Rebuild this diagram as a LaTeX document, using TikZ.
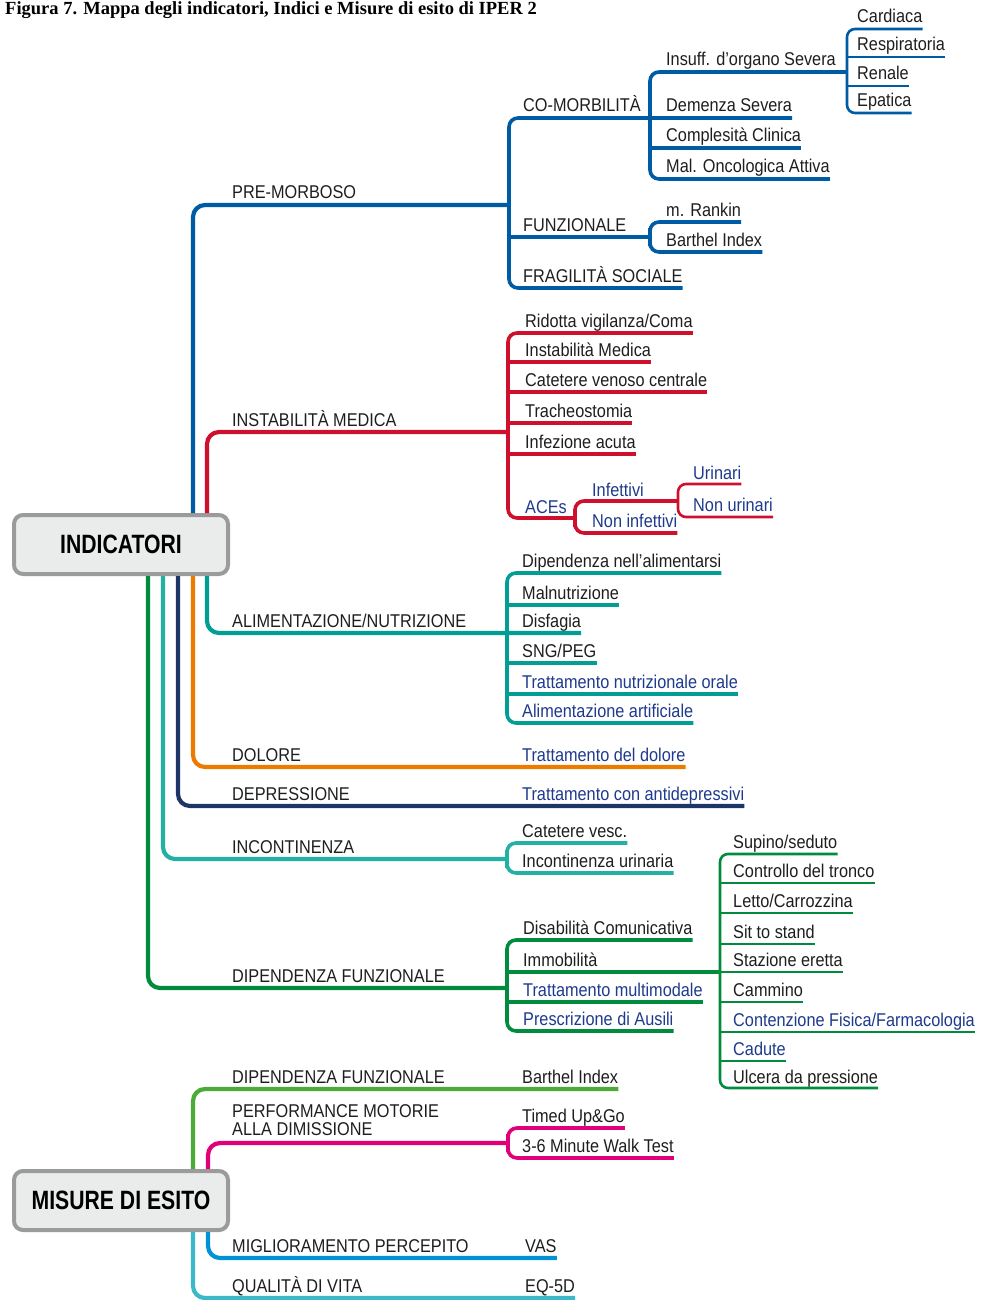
\documentclass[tikz,border=0pt]{standalone}
\usepackage{fontspec}
\setmainfont{Liberation Sans}
\newfontfamily\lblfont[FakeStretch=0.88]{Liberation Sans}
\newfontfamily\hubfont[FakeStretch=0.8]{Liberation Sans}
\newfontfamily\titlefont{Liberation Serif}
\usetikzlibrary{calc}

\definecolor{mblue}{RGB}{0,91,165}
\definecolor{mred}{RGB}{207,16,45}
\definecolor{mteal}{RGB}{0,158,148}
\definecolor{morange}{RGB}{236,124,0}
\definecolor{mnavy}{RGB}{29,53,103}
\definecolor{maqua}{RGB}{36,176,165}
\definecolor{mgreen}{RGB}{0,140,60}
\definecolor{mlime}{RGB}{76,170,54}
\definecolor{mmag}{RGB}{226,0,122}
\definecolor{msky}{RGB}{0,146,212}
\definecolor{mcyan}{RGB}{60,184,200}
\definecolor{ink}{RGB}{30,30,30}
\definecolor{txtblue}{RGB}{30,58,140}
\definecolor{hubgrey}{RGB}{155,155,155}
\definecolor{hubfill}{RGB}{234,236,235}

\begin{document}
\begin{tikzpicture}[
  x=1pt, y=-1pt,
  lbl/.style={anchor=base west, inner sep=0pt, text=ink,
    font=\lblfont\fontsize{18.5}{18}\selectfont},
  lblb/.style={lbl, text=txtblue},
  hub/.style={
    draw=hubgrey, fill=hubfill, line width=4pt, rounded corners=9pt,
    minimum width=214pt, minimum height=59pt, text=black,
    font=\hubfont\bfseries\fontsize{26.5}{28}\selectfont
  },
  trunk/.style={line width=4.2pt, rounded corners=12pt},
  branch/.style={line width=3.6pt, rounded corners=9pt},
  twig/.style={line width=2.6pt, rounded corners=8pt}
]
\useasboundingbox (0,0) rectangle (982,1300);

\node[anchor=base west, inner sep=0pt,
  font=\titlefont\bfseries\fontsize{18.5}{20}\selectfont] (title) at (5,15)
  {Figura 7. Mappa degli indicatori, Indici e Misure di esito di IPER 2};

% Hubs.
\node[hub] (ind) at (121,544.5) {INDICATORI};
\node[hub] (mis) at (121,1200.5) {MISURE DI ESITO};

% Junctions.
\coordinate (preJ)  at (509,205);
\coordinate (comJ)  at (650,118);
\coordinate (insJ)  at (847,72);
\coordinate (funJ)  at (650,237);
\coordinate (insmJ) at (508,432);
\coordinate (acesJ) at (575,518);
\coordinate (infJ)  at (678,501);
\coordinate (alimJ) at (507,633);
\coordinate (incJ)  at (507,859);
\coordinate (dipJ)  at (507,988);
\coordinate (immJ)  at (720,972);
\coordinate (perfJ) at (508,1143);

% Pre-morboso.
\node[lbl] (premorb)  at (232,199) {PRE-MORBOSO};
\node[lbl] (comorb)   at (523,112) {CO-MORBILITÀ};
\node[lbl] (funz)     at (523,231) {FUNZIONALE};
\node[lbl] (fragil)   at (523,282) {FRAGILITÀ SOCIALE};
\node[lbl] (insuff)   at (666,66)  {Insuff. d’organo Severa};
\node[lbl] (demenza)  at (666,112) {Demenza Severa};
\node[lbl] (complex)  at (666,142) {Complesità Clinica};
\node[lbl] (oncol)    at (666,173) {Mal. Oncologica Attiva};
\node[lbl] (cardiaca) at (857,23)  {Cardiaca};
\node[lbl] (respir)   at (857,51)  {Respiratoria};
\node[lbl] (renale)   at (857,80)  {Renale};
\node[lbl] (epatica)  at (857,107) {Epatica};
\node[lbl] (rankin)   at (666,216) {m. Rankin};
\node[lbl] (barthel)  at (666,246) {Barthel Index};

\draw[trunk, mblue] ([xshift=72pt]ind.north) |- (preJ);
\draw[branch, mblue] ($(demenza.base east)+(0,6)$) -| (preJ)
  |- ($(fragil.base east)+(0,6)$);
\draw[branch, mblue] (preJ |- funJ) -- (funJ);
\draw[branch, mblue] (insJ) -| (comJ) |- ($(oncol.base east)+(0,6)$);
\draw[branch, mblue] ($(comJ |- complex.base)+(0,6)$) -- ($(complex.base east)+(0,6)$);
\draw[twig, mblue] ($(cardiaca.base east)+(0,6)$) -| (insJ)
  |- ($(epatica.base east)+(0,6)$);
\draw[twig, mblue] ($(insJ |- respir.base)+(0,6)$) -- ($(respir.base east)+(0,6)$);
\draw[twig, mblue] ($(insJ |- renale.base)+(0,6)$) -- ($(renale.base east)+(0,6)$);
\draw[branch, mblue] ($(rankin.base east)+(0,6)$) -| (funJ)
  |- ($(barthel.base east)+(0,6)$);

% Instabilita medica.
\node[lbl]  (instab)  at (232,426) {INSTABILITÀ MEDICA};
\node[lbl]  (ridotta) at (525,327) {Ridotta vigilanza/Coma};
\node[lbl]  (instmed) at (525,356) {Instabilità Medica};
\node[lbl]  (cvc)     at (525,386) {Catetere venoso centrale};
\node[lbl]  (tracheo) at (525,417) {Tracheostomia};
\node[lbl]  (infez)   at (525,448) {Infezione acuta};
\node[lblb] (aces)    at (525,513) {ACEs};
\node[lblb] (infett)  at (592,496) {Infettivi};
\node[lblb] (noninf)  at (592,527) {Non infettivi};
\node[lblb] (urinari) at (693,479) {Urinari};
\node[lblb] (nonurin) at (693,511) {Non urinari};

\draw[trunk, mred] ([xshift=86pt]ind.north) |- (insmJ);
\draw[branch, mred] ($(ridotta.base east)+(0,6)$) -| (insmJ) |- (acesJ);
\draw[branch, mred] ($(insmJ |- instmed.base)+(0,6)$) -- ($(instmed.base east)+(0,6)$);
\draw[branch, mred] ($(insmJ |- cvc.base)+(0,6)$) -- ($(cvc.base east)+(0,6)$);
\draw[branch, mred] ($(insmJ |- tracheo.base)+(0,6)$) -- ($(tracheo.base east)+(0,6)$);
\draw[branch, mred] ($(insmJ |- infez.base)+(0,6)$) -- ($(infez.base east)+(0,6)$);
\draw[branch, mred] (infJ) -| (acesJ) |- ($(noninf.base east)+(0,6)$);
\draw[twig, mred] ($(urinari.base east)+(0,5)$) -| (infJ)
  |- ($(nonurin.base east)+(0,6)$);

% Alimentazione.
\node[lbl]  (alim)     at (232,627) {ALIMENTAZIONE/NUTRIZIONE};
\node[lbl]  (dipal)    at (522,567) {Dipendenza nell’alimentarsi};
\node[lbl]  (malnut)   at (522,599) {Malnutrizione};
\node[lbl]  (disfagia) at (522,627) {Disfagia};
\node[lbl]  (sng)      at (522,657) {SNG/PEG};
\node[lblb] (tno)      at (522,688) {Trattamento nutrizionale orale};
\node[lblb] (artif)    at (522,717) {Alimentazione artificiale};

\draw[trunk, mteal] ([xshift=86pt]ind.south) |- (alimJ)
  -- ($(disfagia.base east)+(0,6)$);
\draw[branch, mteal] ($(dipal.base east)+(0,6)$) -| (alimJ)
  |- ($(artif.base east)+(0,6)$);
\draw[branch, mteal] ($(alimJ |- malnut.base)+(0,6)$) -- ($(malnut.base east)+(0,6)$);
\draw[branch, mteal] ($(alimJ |- sng.base)+(0,6)$) -- ($(sng.base east)+(0,6)$);
\draw[branch, mteal] ($(alimJ |- tno.base)+(0,6)$) -- ($(tno.base east)+(0,6)$);

% Dolore, depressione.
\node[lbl]  (dolore) at (232,761) {DOLORE};
\node[lblb] (trdol)  at (522,761) {Trattamento del dolore};
\node[lbl]  (depr)   at (232,800) {DEPRESSIONE};
\node[lblb] (trdep)  at (522,800) {Trattamento con antidepressivi};

\draw[trunk, morange] ([xshift=72pt]ind.south) |- ($(trdol.base east)+(0,6)$);
\draw[trunk, mnavy] ([xshift=57pt]ind.south) |- ($(trdep.base east)+(0,6)$);

% Incontinenza.
\node[lbl] (incont) at (232,853) {INCONTINENZA};
\node[lbl] (catv)   at (522,837) {Catetere vesc.};
\node[lbl] (incur)  at (522,867) {Incontinenza urinaria};

\draw[trunk, maqua] ([xshift=42pt]ind.south) |- (incJ);
\draw[branch, maqua] ($(catv.base east)+(0,6)$) -| (incJ)
  |- ($(incur.base east)+(0,6)$);

% Dipendenza funzionale.
\node[lbl]  (dipf)   at (232,982)  {DIPENDENZA FUNZIONALE};
\node[lbl]  (disab)  at (523,934)  {Disabilità Comunicativa};
\node[lbl]  (immob)  at (523,966)  {Immobilità};
\node[lblb] (trmm)   at (523,996)  {Trattamento multimodale};
\node[lblb] (ausili) at (523,1025) {Prescrizione di Ausili};

\node[lbl]  (supino)   at (733,848)  {Supino/seduto};
\node[lbl]  (tronco)   at (733,877)  {Controllo del tronco};
\node[lbl]  (letto)    at (733,907)  {Letto/Carrozzina};
\node[lbl]  (sit)      at (733,938)  {Sit to stand};
\node[lbl]  (stazione) at (733,966)  {Stazione eretta};
\node[lbl]  (cammino)  at (733,996)  {Cammino};
\node[lblb] (contenz)  at (733,1026) {Contenzione Fisica/Farmacologia};
\node[lblb] (cadute)   at (733,1055) {Cadute};
\node[lbl]  (ulcera)   at (733,1083) {Ulcera da pressione};

\draw[trunk, mgreen] ([xshift=27pt]ind.south) |- (dipJ);
\draw[branch, mgreen] ($(disab.base east)+(0,6)$) -| (dipJ)
  |- ($(ausili.base east)+(0,6)$);
\draw[branch, mgreen] (dipJ |- immJ) -- (immJ);
\draw[branch, mgreen] ($(dipJ |- trmm.base)+(0,6)$) -- ($(trmm.base east)+(0,6)$);
\draw[twig, mgreen] ($(supino.base east)+(0,6)$) -| (immJ)
  |- ($(ulcera.base east)+(0,5)$);
\draw[twig, mgreen] ($(immJ |- tronco.base)+(0,6)$) -- ($(tronco.base east)+(0,6)$);
\draw[twig, mgreen] ($(immJ |- letto.base)+(0,6)$) -- ($(letto.base east)+(0,6)$);
\draw[twig, mgreen] ($(immJ |- sit.base)+(0,6)$) -- ($(sit.base east)+(0,6)$);
\draw[twig, mgreen] (immJ) -- ($(stazione.base east)+(0,6)$);
\draw[twig, mgreen] ($(immJ |- cammino.base)+(0,6)$) -- ($(cammino.base east)+(0,6)$);
\draw[twig, mgreen] ($(immJ |- contenz.base)+(0,6)$) -- ($(contenz.base east)+(0,6)$);
\draw[twig, mgreen] ($(immJ |- cadute.base)+(0,6)$) -- ($(cadute.base east)+(0,6)$);

% Misure di esito.
\node[lbl] (dipf2)    at (232,1083) {DIPENDENZA FUNZIONALE};
\node[lbl] (barthel2) at (522,1083) {Barthel Index};
\node[lbl, align=left, anchor=north west] (perf) at (232,1104.5)
  {PERFORMANCE MOTORIE\\ALLA DIMISSIONE};
\node[lbl] (timed)    at (522,1122) {Timed Up\&Go};
\node[lbl] (walk)     at (522,1152) {3-6 Minute Walk Test};
\node[lbl] (migl)     at (232,1252) {MIGLIORAMENTO PERCEPITO};
\node[lbl] (vas)      at (525,1252) {VAS};
\node[lbl] (qual)     at (232,1292) {QUALITÀ DI VITA};
\node[lbl] (eq5d)     at (525,1292) {EQ-5D};

\draw[trunk, mlime] ([xshift=72pt]mis.north) |- ($(barthel2.base east)+(0,6)$);
\draw[trunk, mmag] ([xshift=87pt]mis.north) |- (perfJ);
\draw[branch, mmag] ($(timed.base east)+(0,6)$) -| (perfJ)
  |- ($(walk.base east)+(0,6)$);
\draw[trunk, msky] ([xshift=87pt]mis.south) |- ($(vas.base east)+(0,6)$);
\draw[trunk, mcyan] ([xshift=72pt]mis.south) |- ($(eq5d.base east)+(0,6)$);

\end{tikzpicture}
\end{document}
